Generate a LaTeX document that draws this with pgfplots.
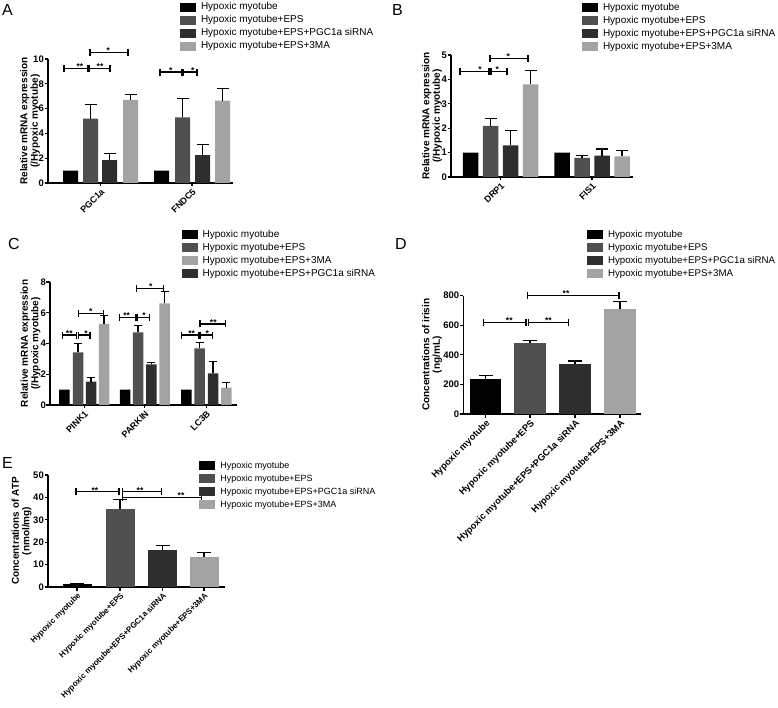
\documentclass[border=0pt]{standalone}
\usepackage{fontspec}
\setmainfont{Liberation Sans}
\usepackage{pgfplots}
\pgfplotsset{compat=1.18}
\definecolor{cB}{HTML}{000000}
\definecolor{cE}{HTML}{505050}
\definecolor{cS}{HTML}{2E2E2E}
\definecolor{cM}{HTML}{A3A3A3}
\pgfplotsset{
 gp/.style={
  scale only axis, anchor=south west, clip=false,
  axis x line*=bottom, axis y line*=left,
  axis line style={line width=1.5pt},
  tick style={black, line width=1.2pt},
  major tick length=3.5pt, tick align=outside,
  ymin=0,
  /pgf/number format/assume math mode=true,
  yticklabel style={font=\bfseries\fontsize{9.5}{10}\selectfont, inner sep=0.5pt},
  xticklabel style={font=\bfseries\fontsize{9}{10}\selectfont, rotate=45, anchor=north east, inner sep=1pt},
  ylabel style={font=\bfseries\fontsize{10}{10.5}\selectfont, align=center, anchor=center},
  legend cell align=left,
  legend image code/.code={\fill[##1] (0pt,-4.5pt) rectangle (16pt,4.5pt);},
  legend style={draw=none, fill=none, inner sep=0pt, outer sep=0pt, anchor=north west,
    row sep=3.5pt, column sep=5pt, font=\fontsize{10}{12}\selectfont,
    nodes={inner sep=0pt, text height=7.5pt, text depth=2pt}},
 },
 gbar/.style n args={2}{ybar, bar shift=0pt, draw=none, fill=#1,
   error bars/.cd, y dir=plus, y explicit,
   error bar style={line width=1.2pt, black},
   error mark options={rotate=90, mark size=#2, line width=1.2pt, black}},
}
% \sig{x1}{x2}{y}{x of text}{text}
\newcommand{\sig}[5]{%
  \draw[line width=1.2pt] (axis cs:#1,#3) -- (axis cs:#2,#3);
  \draw[line width=1.2pt] ([yshift=-3.5pt]axis cs:#1,#3) -- ([yshift=3.5pt]axis cs:#1,#3);
  \draw[line width=1.2pt] ([yshift=-3.5pt]axis cs:#2,#3) -- ([yshift=3.5pt]axis cs:#2,#3);
  \node[font=\bfseries\fontsize{8.5}{8.5}\selectfont, anchor=base, inner sep=0pt, yshift=-1.2pt] at (axis cs:#4,#3) {#5};
}
\begin{document}
\begin{tikzpicture}
\path[use as bounding box] (0pt,0pt) rectangle (778pt,707pt);
\node[anchor=base west, inner sep=0pt, font=\fontsize{16}{16}\selectfont] at (2pt,691pt) {A};
\node[anchor=base west, inner sep=0pt, font=\fontsize{16}{16}\selectfont] at (392pt,691pt) {B};
\node[anchor=base west, inner sep=0pt, font=\fontsize{16}{16}\selectfont] at (8pt,457pt) {C};
\node[anchor=base west, inner sep=0pt, font=\fontsize{16}{16}\selectfont] at (395pt,457pt) {D};
\node[anchor=base west, inner sep=0pt, font=\fontsize{16}{16}\selectfont] at (2pt,239pt) {E};

% ---------------- A
\begin{axis}[gp, at={(48pt,524pt)}, width=185pt, height=124pt,
  xmin=48, xmax=233, ymax=10, ytick={0,2,...,10},
  xtick={100.5,192}, xticklabels={PGC1a,FNDC5}, bar width=15,
  ylabel={Relative mRNA expression\\(/Hypoxic myotube)},
  ylabel style={at={(axis description cs:-0.097,0.5)}},
  legend style={at={(axis description cs:0.7135,1.457)}}]
\addplot[gbar={cB}{6pt}] coordinates {(70.5,1.0) (161.5,1.0)};
\addplot[gbar={cE}{6pt}] coordinates {(90.5,5.2) +- (0,1.1) (182.5,5.3) +- (0,1.5)};
\addplot[gbar={cS}{6pt}] coordinates {(109.5,1.85) +- (0,0.5) (202.5,2.25) +- (0,0.85)};
\addplot[gbar={cM}{6pt}] coordinates {(130.5,6.7) +- (0,0.45) (222.5,6.65) +- (0,0.95)};
\legend{Hypoxic myotube, Hypoxic myotube+EPS, Hypoxic myotube+EPS+PGC1a siRNA, Hypoxic myotube+EPS+3MA}
\sig{64}{88}{9.25}{80}{**}
\sig{89}{110}{9.25}{100}{**}
\sig{90}{128}{10.5}{108.3}{*}
\sig{160}{182}{8.95}{170.7}{*}
\sig{183}{197}{8.95}{192.7}{*}
\end{axis}

% ---------------- B
\begin{axis}[gp, at={(451pt,530pt)}, width=182pt, height=122pt,
  xmin=451, xmax=633, ymax=5, ytick={0,1,...,5},
  xtick={500.5,592}, xticklabels={DRP1,FIS1}, bar width=15.5,
  ylabel={Relative mRNA expression\\(/Hypoxic myotube)},
  ylabel style={at={(axis description cs:-0.104,0.5)}},
  legend style={at={(axis description cs:0.7198,1.426)}}]
\addplot[gbar={cB}{6pt}] coordinates {(470.5,1.0) (562,1.0)};
\addplot[gbar={cE}{6pt}] coordinates {(490.5,2.1) +- (0,0.3) (582,0.78) +- (0,0.09)};
\addplot[gbar={cS}{6pt}] coordinates {(510.5,1.3) +- (0,0.6) (602,0.88) +- (0,0.27)};
\addplot[gbar={cM}{6pt}] coordinates {(530.5,3.8) +- (0,0.58) (622,0.85) +- (0,0.23)};
\legend{Hypoxic myotube, Hypoxic myotube+EPS, Hypoxic myotube+EPS+PGC1a siRNA, Hypoxic myotube+EPS+3MA}
\sig{460}{489}{4.34}{480}{*}
\sig{491}{507}{4.34}{497.3}{*}
\sig{490}{528}{4.86}{508.3}{*}
\end{axis}

% ---------------- C
\begin{axis}[gp, at={(50pt,302pt)}, width=187pt, height=123pt,
  xmin=50, xmax=237, ymax=8, ytick={0,2,...,8},
  xtick={84.2,144.8,206.3}, xticklabels={PINK1,PARKIN,LC3B}, bar width=10.5,
  ylabel={Relative mRNA expression\\(/Hypoxic myotube)},
  ylabel style={at={(axis description cs:-0.104,0.5)}},
  legend style={at={(axis description cs:0.704,1.424)}}]
\addplot[gbar={cB}{4pt}] coordinates {(64.3,1.0) (125,1.0) (186.3,1.0)};
\addplot[gbar={cE}{4pt}] coordinates {(78,3.42) +- (0,0.58) (138,4.73) +- (0,0.43) (199.7,3.69) +- (0,0.36)};
\addplot[gbar={cM}{4pt}] coordinates {(104,5.27) +- (0,0.54) (164.5,6.61) +- (0,0.76) (226.3,1.13) +- (0,0.34)};
\addplot[gbar={cS}{4pt}] coordinates {(91,1.52) +- (0,0.28) (151.3,2.65) +- (0,0.1) (213,2.06) +- (0,0.76)};
\legend{Hypoxic myotube, Hypoxic myotube+EPS, Hypoxic myotube+EPS+3MA, Hypoxic myotube+EPS+PGC1a siRNA}
\sig{62.7}{76.7}{4.55}{69.3}{**}
\sig{78.3}{90}{4.55}{86}{*}
\sig{78.3}{103.3}{5.96}{90.7}{*}
\sig{119.3}{136}{5.7}{126.7}{**}
\sig{137.3}{149.3}{5.7}{144}{*}
\sig{136.7}{163.3}{7.59}{150.7}{*}
\sig{181.7}{198.3}{4.55}{191.7}{**}
\sig{200}{212.3}{4.55}{207.3}{*}
\sig{200}{225.7}{5.27}{213.3}{**}
\end{axis}

% ---------------- D
\begin{axis}[gp, at={(463.3pt,293pt)}, width=178pt, height=118.3pt,
  xmin=463.3, xmax=641.3, ymax=800, ytick={0,200,...,800},
  xtick={485.5,530,575,620},
  xticklabels={Hypoxic myotube,Hypoxic myotube+EPS,Hypoxic myotube+EPS+PGC1a siRNA,Hypoxic myotube+EPS+3MA},
  xticklabel style={font=\bfseries\fontsize{9.3}{10}\selectfont},
  bar width=31.5,
  ylabel={Concentrations of irisin\\(ng/mL)},
  ylabel style={at={(axis description cs:-0.175,0.5)}},
  legend style={at={(axis description cs:0.695,1.557)}, font=\fontsize{9.7}{12}\selectfont}]
\addplot[gbar={cB}{7pt}] coordinates {(485.5,235) +- (0,24)};
\addplot[gbar={cE}{7pt}] coordinates {(530,478) +- (0,18)};
\addplot[gbar={cS}{7pt}] coordinates {(575,336) +- (0,22)};
\addplot[gbar={cM}{7pt}] coordinates {(620,708) +- (0,51)};
\legend{Hypoxic myotube, Hypoxic myotube+EPS, Hypoxic myotube+EPS+PGC1a siRNA, Hypoxic myotube+EPS+3MA}
\sig{483.3}{526}{617}{509.3}{**}
\sig{528.3}{568.3}{617}{548.3}{**}
\sig{527.7}{619}{800}{566}{**}
\end{axis}

% ---------------- E
\begin{axis}[gp, at={(48pt,120pt)}, width=177pt, height=112pt,
  xmin=48, xmax=225, ymax=50, ytick={0,10,...,50},
  xtick={77,120,162.5,204},
  xticklabels={Hypoxic myotube,Hypoxic myotube+EPS,Hypoxic myotube+EPS+PGC1a siRNA,Hypoxic myotube+EPS+3MA},
  xticklabel style={font=\bfseries\fontsize{8}{9}\selectfont},
  bar width=29,
  ylabel={Concentrations of ATP\\(nmol/mg)},
  ylabel style={at={(axis description cs:-0.150,0.5)}},
  legend style={at={(axis description cs:0.855,1.127)}, font=\fontsize{9}{11}\selectfont}]
\addplot[gbar={cB}{7pt}] coordinates {(77,1.2) +- (0,0.45)};
\addplot[gbar={cE}{7pt}] coordinates {(120,34.7) +- (0,4.5)};
\addplot[gbar={cS}{7pt}] coordinates {(162.5,16.5) +- (0,1.9)};
\addplot[gbar={cM}{7pt}] coordinates {(204,13.3) +- (0,2.0)};
\legend{Hypoxic myotube, Hypoxic myotube+EPS, Hypoxic myotube+EPS+PGC1a siRNA, Hypoxic myotube+EPS+3MA}
\sig{76}{119}{42.5}{95}{**}
\sig{122.3}{161.3}{42.5}{140}{**}
\sig{122.3}{201.7}{40}{181}{**}
\end{axis}
\end{tikzpicture}
\end{document}
